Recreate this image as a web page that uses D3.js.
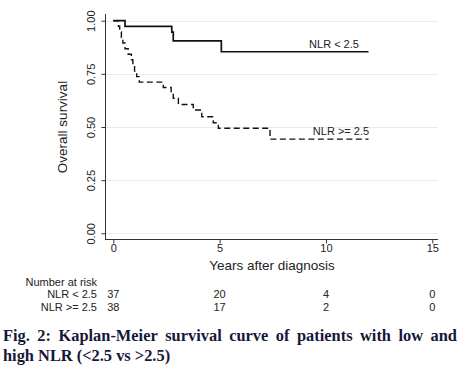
<!DOCTYPE html>
<html>
<head>
<meta charset="utf-8">
<script src="https://cdn.jsdelivr.net/npm/d3@7"></script>
<style>
  body { margin: 0; background: #fff; }
  svg { display: block; }
</style>
</head>
<body>
<div id="chart"></div>
<script>
/* ---------- data ---------- */
var lowTimes  = [0, 0.55, 2.75, 2.82, 5.08, 12.0];
var lowSurv   = [1.0, 0.973, 0.946, 0.905, 0.854, 0.854];

var highTimes = [0, 0.24, 0.30, 0.38, 0.45, 0.55, 0.70, 0.85, 0.92, 1.00, 1.10, 1.22,
                 2.35, 2.72, 2.82, 3.06, 3.76, 4.16, 4.70, 4.94, 7.37, 12.0];
var highSurv  = [1.0, 0.974, 0.947, 0.921, 0.895, 0.868, 0.842, 0.816, 0.789, 0.763, 0.737, 0.711,
                 0.686, 0.660, 0.635, 0.606, 0.580, 0.548, 0.520, 0.494, 0.443, 0.443];

var xTicks = [0, 5, 10, 15];
var yTicks = [0, 0.25, 0.5, 0.75, 1.0];

var riskGroups = ["NLR < 2.5", "NLR >= 2.5"];
var riskLow    = [37, 20, 4, 0];
var riskHigh   = [38, 17, 2, 0];

var captionLine1 = "Fig. 2: Kaplan-Meier survival curve of patients with low and";
var captionLine2 = "high NLR (<2.5 vs >2.5)";

/* ---------- layout ---------- */
var W = 460, H = 372;
var svg = d3.select("#chart").append("svg").attr("width", W).attr("height", H);

var x = d3.scaleLinear().domain([0, 15]).range([113.3, 432.3]);
var y = d3.scaleLinear().domain([0, 1]).range([233.3, 20.7]);
var axisLeftX = 105.5, axisBottomY = 239.5, plotRight = 438;

var sans = "'Liberation Sans', Arial, sans-serif";

// grid lines
svg.append("g").selectAll("line")
   .data(yTicks).enter().append("line")
   .attr("x1", axisLeftX).attr("x2", plotRight)
   .attr("y1", function(d){ return Math.round(y(d)) + 0.5; })
   .attr("y2", function(d){ return Math.round(y(d)) + 0.5; })
   .attr("stroke", "#ebebeb").attr("stroke-width", 1);

// y axis
var yAxis = d3.axisLeft(y).tickValues(yTicks).tickFormat(d3.format(".2f")).tickSize(4).tickSizeOuter(0);
var gy = svg.append("g").attr("transform", "translate(" + axisLeftX + ",0)").call(yAxis);
gy.select(".domain").attr("d", "M0,14V" + (axisBottomY + 0.5));
gy.selectAll(".tick line").attr("stroke", "#333");
gy.selectAll(".tick text")
  .attr("font-family", sans).attr("font-size", 11).attr("fill", "#222")
  .attr("x", 0).attr("dy", 0).attr("text-anchor", "middle")
  .attr("transform", function(){ return "translate(-11,0) rotate(-90)"; });
gy.attr("font-size", null).attr("font-family", null);

// x axis
var xAxis = d3.axisBottom(x).tickValues(xTicks).tickFormat(d3.format("d")).tickSize(4).tickSizeOuter(0);
var gx = svg.append("g").attr("transform", "translate(0," + axisBottomY + ")").call(xAxis);
gx.select(".domain").attr("d", "M" + axisLeftX + ",0H" + plotRight);
gx.selectAll(".tick line").attr("stroke", "#333");
gx.selectAll(".tick text").attr("font-family", sans).attr("font-size", 11).attr("fill", "#222").attr("dy", "0.6em").attr("y", 6);
gx.attr("font-size", null).attr("font-family", null);
svg.selectAll(".domain").attr("stroke", "#333");

// axis titles
svg.append("text").attr("transform", "translate(67,127) rotate(-90)")
   .attr("text-anchor", "middle").attr("font-family", sans).attr("font-size", 13.5)
   .attr("fill", "#222").text("Overall survival");
svg.append("text").attr("x", 272).attr("y", 270)
   .attr("text-anchor", "middle").attr("font-family", sans).attr("font-size", 13.5)
   .attr("fill", "#222").text("Years after diagnosis");

// survival step curves
function stepData(times, surv) {
  return times.map(function(t, i){ return [t, surv[i]]; });
}
var line = d3.line().x(function(d){ return x(d[0]); }).y(function(d){ return y(d[1]); }).curve(d3.curveStepAfter);

svg.append("path").datum(stepData(lowTimes, lowSurv))
   .attr("d", line).attr("fill", "none").attr("stroke", "#111").attr("stroke-width", 1.7);
svg.append("path").datum(stepData(highTimes, highSurv))
   .attr("d", line).attr("fill", "none").attr("stroke", "#111").attr("stroke-width", 1.4)
   .attr("stroke-dasharray", "6,3.5");

// curve labels
svg.append("text").attr("x", 334).attr("y", 48).attr("text-anchor", "middle")
   .attr("font-family", sans).attr("font-size", 11).attr("fill", "#222").text(riskGroups[0]);
svg.append("text").attr("x", 341).attr("y", 135).attr("text-anchor", "middle")
   .attr("font-family", sans).attr("font-size", 11).attr("fill", "#222").text(riskGroups[1]);

// number at risk table
svg.append("text").attr("x", 97).attr("y", 285.5).attr("text-anchor", "end")
   .attr("font-family", sans).attr("font-size", 11).attr("fill", "#222").text("Number at risk");
[riskLow, riskHigh].forEach(function(row, r){
  var yy = 298 + r * 13.4;
  svg.append("text").attr("x", 97).attr("y", yy).attr("text-anchor", "end")
     .attr("font-family", sans).attr("font-size", 11).attr("fill", "#222").text(riskGroups[r]);
  svg.append("g").selectAll("text").data(row).enter().append("text")
     .attr("x", function(d, i){ return x(xTicks[i]); }).attr("y", yy)
     .attr("text-anchor", "middle").attr("font-family", sans).attr("font-size", 11)
     .attr("fill", "#222").text(function(d){ return d; });
});

// caption (first line justified)
var serif = "'Liberation Serif', 'Times New Roman', serif";
var capColor = "#17173a";
var words = captionLine1.split(" ");
var cap1 = svg.append("g");
var wordNodes = cap1.selectAll("text").data(words).enter().append("text")
   .attr("y", 341).attr("font-family", serif).attr("font-size", 16.4).attr("font-weight", "bold")
   .attr("fill", capColor).text(function(d){ return d; });
var widths = wordNodes.nodes().map(function(n){ return n.getComputedTextLength(); });
var left = 3, right = 457;
var gap = (right - left - d3.sum(widths)) / (words.length - 1);
var cx = left;
wordNodes.attr("x", function(d, i){ var v = cx; cx += widths[i] + gap; return v; });

svg.append("text").attr("x", 3).attr("y", 361)
   .attr("font-family", serif).attr("font-size", 16.4).attr("font-weight", "bold")
   .attr("fill", capColor).text(captionLine2);
</script>
</body>
</html>
